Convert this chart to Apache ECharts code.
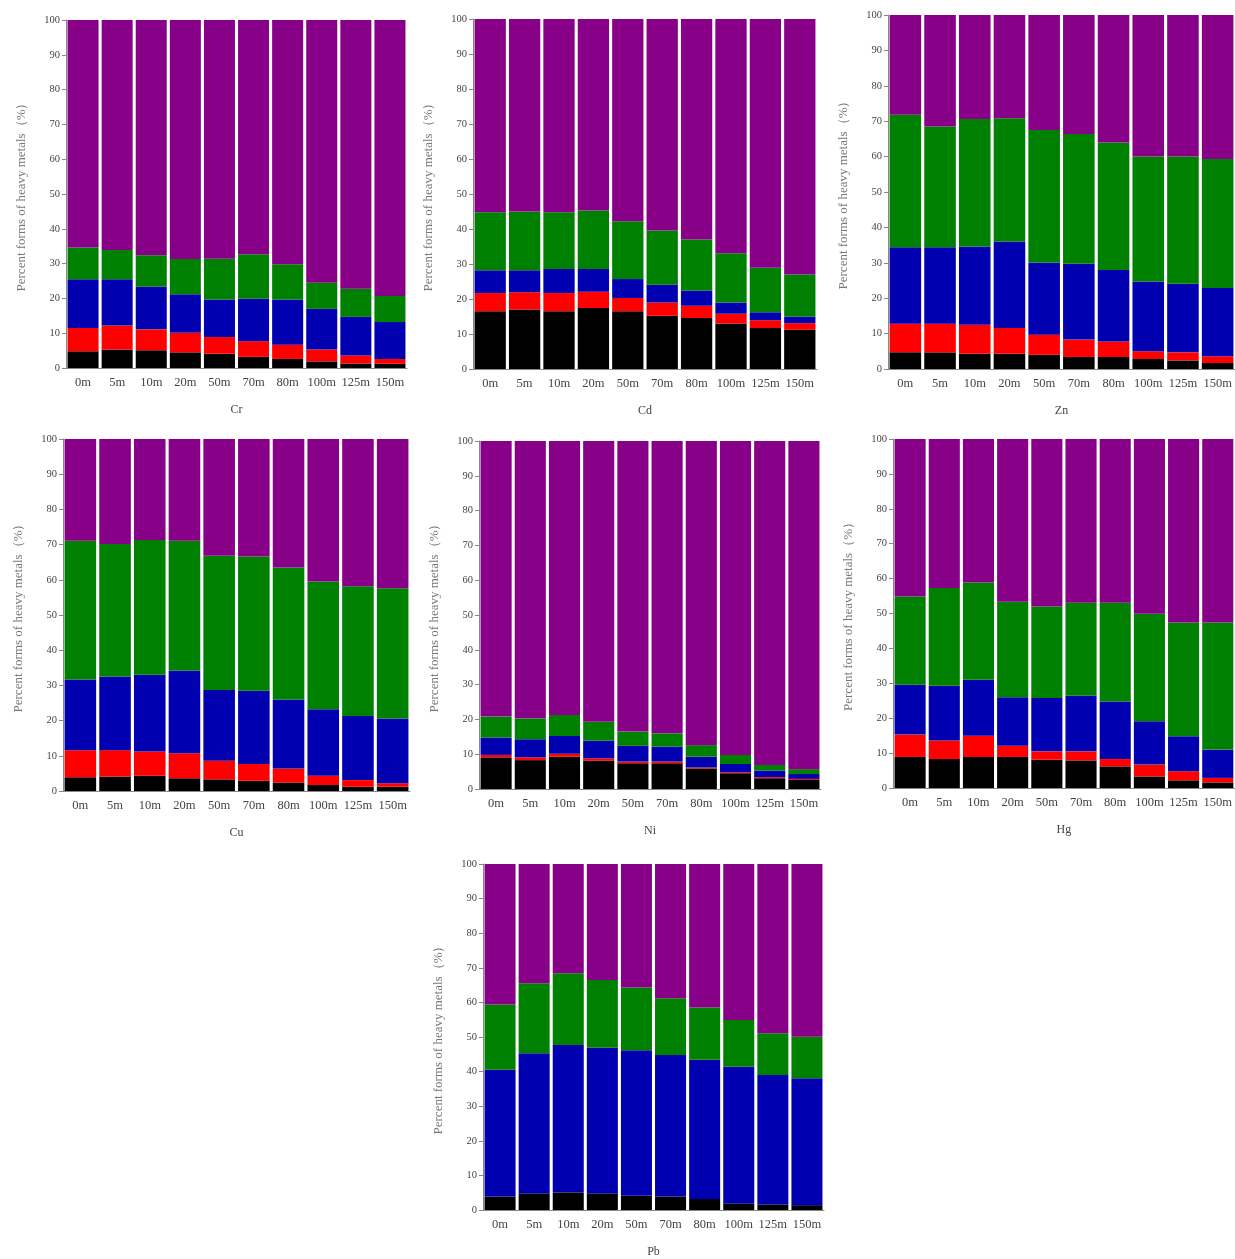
<!DOCTYPE html>
<html>
<head>
<meta charset="utf-8">
<script src="https://cdn.jsdelivr.net/npm/echarts@6/dist/echarts.min.js"></script>
<style>html,body{margin:0;padding:0;background:#fff;}#c{width:1235px;height:1259px;}</style>
</head>
<body>
<div id="c"></div>
<script>
var categories = ['0m','5m','10m','20m','50m','70m','80m','100m','125m','150m'];
var yTicks = [0,10,20,30,40,50,60,70,80,90,100];

var crBlack  = [4.8,5.3,5.1,4.5,4.1,3.2,2.6,1.9,1.3,1.2];
var crRed    = [6.7,6.9,6.0,5.6,4.8,4.5,4.1,3.4,2.3,1.4];
var crBlue   = [14.0,13.3,12.3,11.1,10.8,12.2,13.0,11.7,11.1,10.6];
var crGreen  = [9.1,8.4,9.0,10.1,11.7,12.8,10.1,7.5,8.1,7.5];
var crPurple = [65.4,66.1,67.6,68.7,68.6,67.3,70.2,75.5,77.2,79.3];

var cdBlack  = [16.5,17.0,16.5,17.4,16.5,15.2,14.6,13.0,11.7,11.2];
var cdRed    = [5.2,4.9,5.2,4.7,3.8,3.8,3.5,2.8,2.2,1.9];
var cdBlue   = [6.5,6.3,6.9,6.5,5.4,5.1,4.3,3.2,2.3,1.9];
var cdGreen  = [16.6,16.8,16.2,16.7,16.5,15.5,14.6,14.1,12.7,12.0];
var cdPurple = [55.2,55.0,55.2,54.7,57.8,60.4,63.0,66.9,71.1,73.0];

var znBlack  = [4.7,4.7,4.3,4.3,4.0,3.4,3.4,2.8,2.4,1.7];
var znRed    = [8.1,8.1,8.2,7.3,5.7,4.9,4.4,2.2,2.3,1.9];
var znBlue   = [21.6,21.6,22.1,24.4,20.4,21.4,20.2,19.7,19.4,19.3];
var znGreen  = [37.4,34.1,36.0,34.8,37.4,36.7,36.0,35.3,35.9,36.4];
var znPurple = [28.2,31.5,29.4,29.2,32.5,33.6,36.0,40.0,40.0,40.7];

var cuBlack  = [3.9,4.1,4.3,3.6,3.3,2.9,2.4,1.7,1.2,1.2];
var cuRed    = [7.7,7.5,6.9,7.1,5.3,4.8,4.0,2.6,1.9,1.0];
var cuBlue   = [20.1,20.9,21.8,23.5,20.1,20.8,19.6,18.9,18.2,18.4];
var cuGreen  = [39.4,37.7,38.3,36.9,38.1,38.1,37.5,36.3,36.9,37.0];
var cuPurple = [28.9,29.8,28.7,28.9,33.2,33.4,36.5,40.5,41.8,42.4];

var niBlack  = [9.1,8.3,9.3,8.1,7.4,7.4,5.9,4.5,3.1,2.6];
var niRed    = [0.7,0.8,0.8,0.7,0.5,0.5,0.3,0.3,0.3,0.3];
var niBlue   = [5.0,5.2,5.1,5.1,4.5,4.3,3.1,2.4,1.9,1.4];
var niGreen  = [6.0,6.0,6.1,5.4,4.1,3.8,3.3,2.6,1.6,1.4];
var niPurple = [79.2,79.7,78.7,80.7,83.5,84.0,87.4,90.2,93.1,94.3];

var hgBlack  = [8.9,8.3,8.9,8.9,8.1,7.9,6.2,3.3,2.2,1.6];
var hgRed    = [6.4,5.3,6.1,3.2,2.4,2.6,2.1,3.4,2.6,1.3];
var hgBlue   = [14.3,15.7,16.0,13.9,15.3,15.9,16.5,12.4,10.0,8.1];
var hgGreen  = [25.3,28.0,27.9,27.4,26.2,26.7,28.3,30.8,32.6,36.4];
var hgPurple = [45.1,42.7,41.1,46.6,48.0,46.9,46.9,50.1,52.6,52.6];

var pbBlack  = [3.9,4.8,5.1,4.8,4.1,3.9,3.2,1.9,1.6,1.4];
var pbRed    = [0,0,0,0,0,0,0,0,0,0];
var pbBlue   = [36.6,40.5,42.6,42.1,42.1,40.9,40.2,39.5,37.4,36.7];
var pbGreen  = [18.9,20.2,20.7,19.6,18.1,16.4,15.1,13.5,12.1,12.0];
var pbPurple = [40.6,34.5,31.6,33.5,35.7,38.8,41.5,45.1,48.9,49.9];

var panels = [
  {name:'Cr', data:[crBlack,crRed,crBlue,crGreen,crPurple], box:[66,20,341,348]},
  {name:'Cd', data:[cdBlack,cdRed,cdBlue,cdGreen,cdPurple], box:[473,19,344,350]},
  {name:'Zn', data:[znBlack,znRed,znBlue,znGreen,znPurple], box:[888,15,347,354]},
  {name:'Cu', data:[cuBlack,cuRed,cuBlue,cuGreen,cuPurple], box:[63,439,347,352]},
  {name:'Ni', data:[niBlack,niRed,niBlue,niGreen,niPurple], box:[479,441,342,348]},
  {name:'Hg', data:[hgBlack,hgRed,hgBlue,hgGreen,hgPurple], box:[893,439,342,349]},
  {name:'Pb', data:[pbBlack,pbRed,pbBlue,pbGreen,pbPurple], box:[483,864,341,346]}
];
var colors = ['#000000','#ff0000','#0000b0','#008000','#880088'];
var fractions = ['F1','F2','F3','F4','F5'];

var font = '"Liberation Serif", "Times New Roman", serif';
var grid = [], xAxis = [], yAxis = [], series = [];
panels.forEach(function(p, i){
  grid.push({left:p.box[0], top:p.box[1], width:p.box[2], height:p.box[3], containLabel:false});
  xAxis.push({
    type:'category', gridIndex:i, data:categories,
    name:p.name, nameLocation:'middle', nameGap:36,
    nameTextStyle:{fontFamily:font, fontSize:12, color:'#444'},
    axisLine:{show:true, lineStyle:{color:'#888', width:1}},
    axisTick:{show:false},
    axisLabel:{fontFamily:font, fontSize:12.5, color:'#444', margin:8, interval:0}
  });
  yAxis.push({
    type:'value', gridIndex:i, min:yTicks[0], max:yTicks[yTicks.length-1], interval:10,
    name:'Percent forms of heavy metals（%）', nameLocation:'middle', nameGap:38,
    nameTextStyle:{fontFamily:font, fontSize:13, color:'#777'},
    axisLine:{show:true, lineStyle:{color:'#888', width:1}},
    axisTick:{show:true, length:4, lineStyle:{color:'#888'}},
    axisLabel:{fontFamily:font, fontSize:10.5, color:'#444', margin:6},
    splitLine:{show:false}
  });
  p.data.forEach(function(arr, k){
    series.push({
      type:'bar', name:fractions[k], xAxisIndex:i, yAxisIndex:i, stack:'s'+i,
      data:arr, barCategoryGap:'9%', itemStyle:{color:colors[k]},
      silent:true, animation:false
    });
  });
});

var chart = echarts.init(document.getElementById('c'), null, {renderer:'canvas'});
chart.setOption({backgroundColor:'#fff', animation:false, grid:grid, xAxis:xAxis, yAxis:yAxis, series:series});
</script>
</body>
</html>
